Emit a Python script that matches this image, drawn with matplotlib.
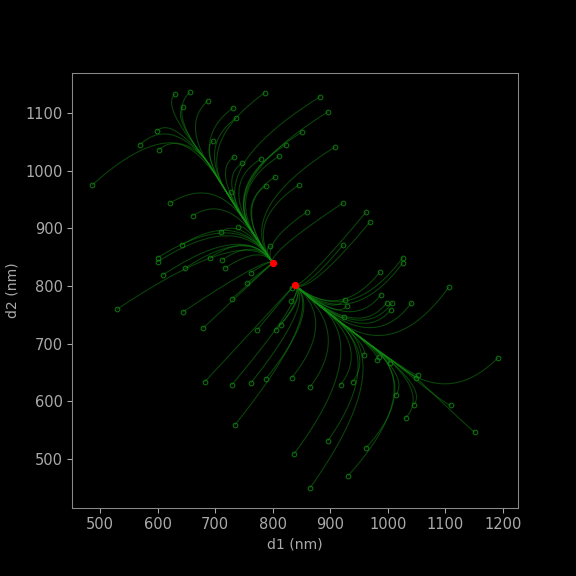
import numpy as np
import matplotlib
matplotlib.use("Agg")
import matplotlib.pyplot as plt

start_d1 = [486,530,600,600,609,630,644,656,687,569,599,602,622,642,648,644,679,661,682,696,691,712,729,734,729,727,740,731,736,733,747,755,762,773,788,786,779,789,804,811,823,845,851,806,814,832,833,833,837,859,865,882,896,908,922,922,925,929,924,918,939,931,896,865,962,969,958,962,986,988,998,1005,1008,1026,1026,1041,984,981,1003,1014,1031,1045,1049,1052,1106,1109,1151,1191,710,717,762,795]
start_d2 = [975,760,849,842,819,1133,1110,1136,1121,1045,1069,1036,944,871,831,755,727,922,634,1051,849,845,778,559,629,963,902,1109,1091,1024,1013,805,823,724,639,1135,1020,974,989,1025,1045,975,1067,724,733,774,797,641,509,928,450,1128,1102,1041,944,871,776,765,746,629,634,471,532,625,928,911,680,519,824,785,771,759,771,849,840,771,677,672,667,611,571,594,641,646,798,594,547,675,894,831,632,869]
red_d1 = [800, 838]
red_d2 = [840, 802]
trunk_upper = np.array([[600,1120],[650,1065],[690,1010],[740,930],[770,885],[800,840]])
trunk_lower = np.array([[1150,545],[1100,595],[1050,640],[980,690],[920,735],[870,775],[838,802]])

def dense(poly, n=200):
    seg = np.r_[0, np.cumsum(np.hypot(*np.diff(poly, axis=0).T))]
    t = np.linspace(0, seg[-1], n)
    return np.c_[np.interp(t, seg, poly[:,0]), np.interp(t, seg, poly[:,1])]

U, L = dense(trunk_upper), dense(trunk_lower)

fig = plt.figure(figsize=(6,6), dpi=96, facecolor='black')
ax = fig.add_axes([0.125, 0.118, 0.774, 0.755], facecolor='black')
green = '#138a13'
for x, y in zip(start_d1, start_d2):
    best = None
    for tr in (U, L):
        d = np.hypot(tr[:,0]-x, tr[:,1]-y)
        i = int(np.argmin(d))
        if best is None or d[i] < best[0]:
            best = (d[i], tr, i)
    _, tr, i = best
    j = min(i + 60, len(tr)-1)
    P0 = np.array([x, y]); P2 = tr[j]; P1 = tr[i]
    t = np.linspace(0,1,40)[:,None]
    bez = (1-t)**2*P0 + 2*(1-t)*t*P1 + t**2*P2
    path = np.r_[bez, tr[j:]]
    ax.plot(path[:,0], path[:,1], color=green, lw=0.8, alpha=0.5)
    ax.plot(x, y, 'o', mfc='none', mec=green, ms=3.5, mew=0.8, alpha=0.8)
ax.plot(red_d1, red_d2, 'o', color='red', ms=4.5)
ax.set_xlim(451, 1226)
ax.set_ylim(415, 1169)
ax.set_xticks(range(500, 1201, 100))
ax.set_yticks(range(500, 1101, 100))
for s in ax.spines.values():
    s.set_color('#888888')
ax.tick_params(colors='#aaaaaa', labelsize=11)
ax.set_xlabel('d1 (nm)', color='#aaaaaa', fontsize=10.5)
ax.set_ylabel('d2 (nm)', color='#aaaaaa', fontsize=10.5)
fig.savefig('out.png', facecolor='black')
